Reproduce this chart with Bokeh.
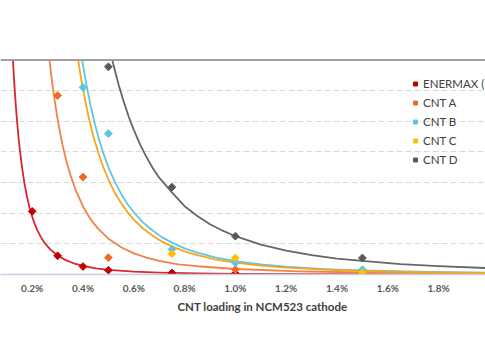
from bokeh.plotting import figure
from bokeh.models import Range1d, FixedTicker, PrintfTickFormatter, Legend, LegendItem, Span, Title
from bokeh.embed import file_html
from bokeh.resources import INLINE

# ---- data (x in % CNT loading) ----
series_names = ["ENERMAX (", "CNT A", "CNT B", "CNT C", "CNT D"]

enermax_x = [0.2, 0.3, 0.4, 0.5, 0.75, 1.0, 1.5]
enermax_y = [2.06, 0.61, 0.26, 0.14, 0.05, 0.04, 0.03]
cnt_a_x = [0.3, 0.4, 0.5, 1.0, 1.5]
cnt_a_y = [5.84, 3.18, 0.55, 0.16, 0.04]
cnt_b_x = [0.4, 0.5, 0.75, 1.0, 1.5]
cnt_b_y = [6.11, 4.60, 0.82, 0.38, 0.16]
cnt_c_x = [0.75, 1.0, 1.5]
cnt_c_y = [0.68, 0.54, 0.06]
cnt_d_x = [0.5, 0.75, 1.0, 1.5]
cnt_d_y = [6.78, 2.85, 1.25, 0.54]

# trendlines
trend_enermax_x = [0.1242, 0.127, 0.13, 0.135, 0.14, 0.145, 0.15, 0.16, 0.17, 0.18, 0.19, 0.2, 0.21, 0.22,
                   0.235, 0.25, 0.27, 0.3, 0.33, 0.36, 0.4, 0.45, 0.5, 0.6, 0.7, 0.85, 1.0, 1.25, 1.5, 2.0]
trend_enermax_y = [7.0, 6.60, 6.18, 5.57, 5.04, 4.57, 4.17, 3.49, 2.95, 2.52, 2.17, 1.89, 1.65, 1.45,
                   1.21, 1.02, 0.83, 0.62, 0.477, 0.375, 0.28, 0.203, 0.152, 0.092, 0.06, 0.035, 0.023, 0.015, 0.01, 0.006]
trend_a_x = [0.268, 0.275, 0.28, 0.29, 0.30, 0.31, 0.32, 0.335, 0.35, 0.37, 0.40, 0.43, 0.46, 0.50,
             0.55, 0.60, 0.65, 0.70, 0.775, 0.85, 1.0, 1.25, 1.5, 1.75, 2.0]
trend_a_y = [7.0, 6.51, 6.18, 5.59, 5.07, 4.61, 4.21, 3.69, 3.26, 2.78, 2.22, 1.80, 1.49, 1.17,
             0.89, 0.69, 0.551, 0.445, 0.333, 0.27, 0.18, 0.10, 0.065, 0.045, 0.03]
trend_b_x = [0.397, 0.405, 0.415, 0.43, 0.445, 0.46, 0.48, 0.50, 0.525, 0.55, 0.575, 0.60, 0.635, 0.67,
             0.71, 0.75, 0.80, 0.85, 0.92, 1.0, 1.1, 1.2, 1.35, 1.5, 1.75, 2.0]
trend_b_y = [7.0, 6.59, 6.13, 5.51, 4.97, 4.50, 3.96, 3.50, 3.03, 2.63, 2.30, 2.03, 1.71, 1.46,
             1.22, 1.04, 0.855, 0.713, 0.562, 0.438, 0.329, 0.253, 0.178, 0.13, 0.082, 0.055]
trend_c_x = [0.381, 0.39, 0.40, 0.41, 0.425, 0.44, 0.46, 0.48, 0.50, 0.525, 0.55, 0.575, 0.60, 0.635,
             0.67, 0.71, 0.75, 0.80, 0.85, 0.92, 1.0, 1.1, 1.2, 1.35, 1.5, 1.75, 2.0]
trend_c_y = [7.0, 6.52, 6.05, 5.62, 5.04, 4.54, 3.98, 3.50, 3.10, 2.67, 2.33, 2.04, 1.79, 1.51,
             1.29, 1.08, 0.917, 0.755, 0.63, 0.497, 0.387, 0.291, 0.224, 0.157, 0.115, 0.072, 0.048]
trend_d_x = [0.515, 0.525, 0.54, 0.56, 0.58, 0.60, 0.625, 0.65, 0.675, 0.70, 0.75, 0.80, 0.85, 0.90,
             0.95, 1.0, 1.1, 1.2, 1.3, 1.4, 1.5, 1.65, 1.8, 2.0]
trend_d_y = [7.0, 6.68, 6.20, 5.65, 5.15, 4.72, 4.24, 3.83, 3.47, 3.16, 2.68, 2.23, 1.91, 1.64,
             1.43, 1.25, 0.976, 0.78, 0.632, 0.521, 0.445, 0.34, 0.271, 0.206]

x_ticks = [0.2, 0.4, 0.6, 0.8, 1.0, 1.2, 1.4, 1.6, 1.8, 2.0]
y_grid = [1, 2, 3, 4, 5, 6]
y_top = 7

marker_colors = ["#C00000", "#F06A25", "#5BC5E5", "#FFC000", "#595959"]
line_colors = ["#D8262E", "#F28248", "#5CC8E6", "#F9A51A", "#666666"]

points = [(enermax_x, enermax_y), (cnt_a_x, cnt_a_y), (cnt_b_x, cnt_b_y), (cnt_c_x, cnt_c_y), (cnt_d_x, cnt_d_y)]
trends = [(trend_enermax_x, trend_enermax_y), (trend_a_x, trend_a_y), (trend_b_x, trend_b_y),
          (trend_c_x, trend_c_y), (trend_d_x, trend_d_y)]

FONT = "Lato"

p = figure(width=485, height=356,
           x_range=Range1d(0.0752, 1.9846), y_range=Range1d(0, 7.05),
           output_backend="svg", toolbar_location=None, y_axis_location=None,
           min_border_left=0, min_border_right=0, min_border_top=58, min_border_bottom=82,
           background_fill_color="white", border_fill_color="white", outline_line_color=None)

p.xgrid.visible = False
p.ygrid.ticker = FixedTicker(ticks=y_grid)
p.ygrid.grid_line_color = "#d9d9d9"
p.ygrid.grid_line_dash = "6 3"
p.ygrid.grid_line_width = 1

ax = p.xaxis[0]
ax.ticker = FixedTicker(ticks=x_ticks)
ax.formatter = PrintfTickFormatter(format="%.1f%%")
ax.major_tick_line_color = None
ax.minor_tick_line_color = None
ax.major_tick_out = 0
ax.major_tick_in = 0
ax.axis_line_color = "#c3cee0"
ax.axis_line_width = 1.5
ax.major_label_standoff = 7
ax.major_label_text_font = FONT
ax.major_label_text_font_size = "10px"
ax.major_label_text_font_style = "bold"
ax.major_label_text_color = "#595959"

p.add_layout(Span(location=y_top, dimension="width", line_color="#a0a0a0", line_width=2))

for (tx, ty), c in zip(trends, line_colors):
    p.line(tx, ty, line_color=c, line_width=1.8, line_join="round")

renderers = []
for (px, py), c in zip(points, marker_colors):
    r = p.scatter(px, py, marker="square", angle=0.785398, size=5.5,
                  fill_color=c, line_color=c)
    renderers.append(r)

legend = Legend(items=[LegendItem(label=n, renderers=[r]) for n, r in zip(series_names, renderers)],
                location=(410, 107), glyph_width=10, glyph_height=15, label_height=15,
                spacing=4, padding=0, margin=0, border_line_color=None,
                background_fill_alpha=0, label_standoff=3,
                label_text_font=FONT, label_text_font_size="11.5px", label_text_color="#404040")
p.add_layout(legend)

title = Title(text="CNT loading in NCM523 cathode", align="left", offset=177, standoff=3,
              text_font=FONT, text_font_size="11.5px", text_font_style="bold", text_color="#404040")
p.add_layout(title, "below")

open("out.html", "w").write(file_html(p, INLINE))
